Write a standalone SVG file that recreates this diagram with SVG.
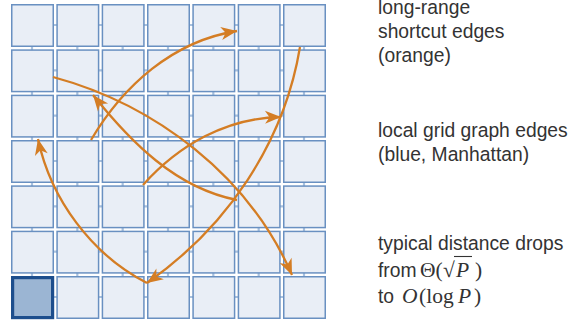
<svg xmlns="http://www.w3.org/2000/svg" width="571" height="325" viewBox="0 0 571 325">
<style>
.stub{stroke:#a9c1de;stroke-width:2.2;fill:none}
.cell{fill:#e9eef6;stroke:#6990c1;stroke-width:1.5}
.src{fill:#9bb5d3;stroke:#1d4e8d;stroke-width:3.2}
.sc{fill:none;stroke:#d47d24;stroke-width:2.3;marker-end:url(#ah)}
.lbl{font-family:"Liberation Sans",Arial,sans-serif;font-size:19.3px;fill:#333}
.m{font-family:"Liberation Serif","Times New Roman",serif;font-size:21.5px;fill:#333}
</style>
<defs>
<marker id="ah" viewBox="-17 -8 18 16" refX="0" refY="0" markerWidth="18" markerHeight="16" markerUnits="userSpaceOnUse" orient="auto">
<path d="M0,0 L-16,-6.5 L-11.5,0 L-16,6.5 Z" fill="#d47d24"/>
</marker>
</defs>
<g id="grid-edges" class="stub">
<path d="M32,25H304M32,70.33H304M32,115.67H304M32,161H304M32,206.33H304M32,251.67H304M32,297H304"/>
<path d="M32,25V297M77.33,25V297M122.67,25V297M168,25V297M213.33,25V297M258.67,25V297M304,25V297"/>
</g>
<g id="cells">
<g id="r0">
<rect class="cell" x="11.75" y="4.75" width="41.5" height="41.5"/><rect class="cell" x="57.08" y="4.75" width="41.5" height="41.5"/><rect class="cell" x="102.42" y="4.75" width="41.5" height="41.5"/><rect class="cell" x="147.75" y="4.75" width="41.5" height="41.5"/><rect class="cell" x="193.08" y="4.75" width="41.5" height="41.5"/><rect class="cell" x="238.42" y="4.75" width="41.5" height="41.5"/><rect class="cell" x="283.75" y="4.75" width="41.5" height="41.5"/>
</g>
<g id="r1">
<rect class="cell" x="11.75" y="50.08" width="41.5" height="41.5"/><rect class="cell" x="57.08" y="50.08" width="41.5" height="41.5"/><rect class="cell" x="102.42" y="50.08" width="41.5" height="41.5"/><rect class="cell" x="147.75" y="50.08" width="41.5" height="41.5"/><rect class="cell" x="193.08" y="50.08" width="41.5" height="41.5"/><rect class="cell" x="238.42" y="50.08" width="41.5" height="41.5"/><rect class="cell" x="283.75" y="50.08" width="41.5" height="41.5"/>
</g>
<g id="r2">
<rect class="cell" x="11.75" y="95.42" width="41.5" height="41.5"/><rect class="cell" x="57.08" y="95.42" width="41.5" height="41.5"/><rect class="cell" x="102.42" y="95.42" width="41.5" height="41.5"/><rect class="cell" x="147.75" y="95.42" width="41.5" height="41.5"/><rect class="cell" x="193.08" y="95.42" width="41.5" height="41.5"/><rect class="cell" x="238.42" y="95.42" width="41.5" height="41.5"/><rect class="cell" x="283.75" y="95.42" width="41.5" height="41.5"/>
</g>
<g id="r3">
<rect class="cell" x="11.75" y="140.75" width="41.5" height="41.5"/><rect class="cell" x="57.08" y="140.75" width="41.5" height="41.5"/><rect class="cell" x="102.42" y="140.75" width="41.5" height="41.5"/><rect class="cell" x="147.75" y="140.75" width="41.5" height="41.5"/><rect class="cell" x="193.08" y="140.75" width="41.5" height="41.5"/><rect class="cell" x="238.42" y="140.75" width="41.5" height="41.5"/><rect class="cell" x="283.75" y="140.75" width="41.5" height="41.5"/>
</g>
<g id="r4">
<rect class="cell" x="11.75" y="186.08" width="41.5" height="41.5"/><rect class="cell" x="57.08" y="186.08" width="41.5" height="41.5"/><rect class="cell" x="102.42" y="186.08" width="41.5" height="41.5"/><rect class="cell" x="147.75" y="186.08" width="41.5" height="41.5"/><rect class="cell" x="193.08" y="186.08" width="41.5" height="41.5"/><rect class="cell" x="238.42" y="186.08" width="41.5" height="41.5"/><rect class="cell" x="283.75" y="186.08" width="41.5" height="41.5"/>
</g>
<g id="r5">
<rect class="cell" x="11.75" y="231.42" width="41.5" height="41.5"/><rect class="cell" x="57.08" y="231.42" width="41.5" height="41.5"/><rect class="cell" x="102.42" y="231.42" width="41.5" height="41.5"/><rect class="cell" x="147.75" y="231.42" width="41.5" height="41.5"/><rect class="cell" x="193.08" y="231.42" width="41.5" height="41.5"/><rect class="cell" x="238.42" y="231.42" width="41.5" height="41.5"/><rect class="cell" x="283.75" y="231.42" width="41.5" height="41.5"/>
</g>
<g id="r6">
<rect class="src" x="12.6" y="277.6" width="40" height="40"/><rect class="cell" x="57.08" y="276.75" width="41.5" height="41.5"/><rect class="cell" x="102.42" y="276.75" width="41.5" height="41.5"/><rect class="cell" x="147.75" y="276.75" width="41.5" height="41.5"/><rect class="cell" x="193.08" y="276.75" width="41.5" height="41.5"/><rect class="cell" x="238.42" y="276.75" width="41.5" height="41.5"/><rect class="cell" x="283.75" y="276.75" width="41.5" height="41.5"/>
</g>
</g>
<g id="shortcuts">
<path class="sc" d="M91,140 C123.3,85.8 172.6,41.1 237,31"/>
<path class="sc" d="M53,77 C155.6,104.75 248.9,175.7 292,275"/>
<path class="sc" d="M300,47 C284,143.5 226.65,227.3 147,283"/>
<path class="sc" d="M143,185 C178.65,145.1 226.45,117.8 281,117"/>
<path class="sc" d="M237,200 C175.35,187.95 130.5,141.7 93,95"/>
<path class="sc" d="M147,283 C91.5,254.5 50.8,199.3 38,139"/>
</g>
<g id="labels">
<text class="lbl" x="378" y="13.5">long-range</text>
<text class="lbl" x="378" y="37.5">shortcut edges</text>
<text class="lbl" x="378" y="62">(orange)</text>
<text class="lbl" x="378" y="136.5">local grid graph edges</text>
<text class="lbl" x="378" y="161">(blue, Manhattan)</text>
<text class="lbl" x="378" y="250">typical distance drops</text>
<text class="lbl" x="378" y="276.5">from</text>
<text class="m" x="420" y="276.5">Θ(</text>
<text class="m" x="443" y="277" font-size="23px">√</text>
<text class="m" x="456" y="276.5" font-style="italic">P</text>
<text class="m" x="475" y="276.5">)</text>
<line x1="454" y1="256.5" x2="472" y2="256.5" stroke="#333" stroke-width="1.1"/>
<text class="lbl" x="378" y="303">to</text>
<text class="m" x="402" y="303" font-style="italic">O</text>
<text class="m" x="419" y="303">(log</text>
<text class="m" x="458" y="303" font-style="italic">P</text>
<text class="m" x="474" y="303">)</text>
</g>
</svg>
